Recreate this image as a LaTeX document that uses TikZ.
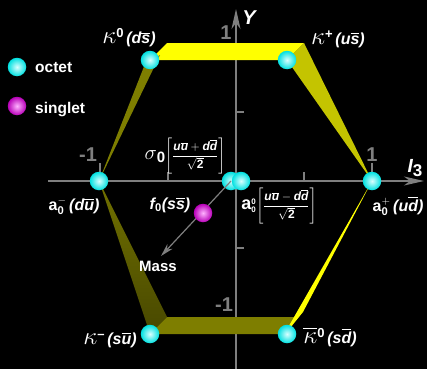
\documentclass[tikz,border=0pt]{standalone}
\usepackage{amsmath}
\usepackage{fontspec}
\setmainfont{Liberation Sans}
\usetikzlibrary{arrows.meta}
\definecolor{axisgray}{HTML}{7F7F7F}
\definecolor{yel}{HTML}{FFFF00}
\definecolor{yelside}{HTML}{C4C400}
\definecolor{oliveband}{HTML}{7E7E00}
\definecolor{olivedark}{HTML}{484800}
\newcommand{\qk}[1]{\text{#1}}
\newcommand{\aq}[1]{\overline{\text{#1}}}
\newcommand{\up}[1]{\text{\upshape #1}}
\newcommand{\kap}{{\fontsize{25}{25}\selectfont$\kappa$}}
\newcommand{\kapb}{{\fontsize{25}{25}\selectfont$\overline{\kappa}$}}
\newcommand{\supr}[1]{\raisebox{6pt}{\fontsize{13}{13}\selectfont\upshape #1}}
\tikzset{
  axisline/.style={draw=axisgray, line width=1.5pt, -{Stealth[length=20pt,width=9pt,inset=6pt]}},
  tickline/.style={draw=axisgray, line width=1.3pt},
  massline/.style={draw=axisgray, line width=1.2pt, -{Stealth[length=13pt,width=7pt,inset=4pt]}},
  ballnode/.style={circle, minimum size=18.5pt, inner sep=0pt, draw=none},
  octetball/.style={ballnode, inner color=cyan!15!white, outer color=cyan!88!black},
  singletball/.style={ballnode, inner color=magenta!30!white, outer color=magenta!72!black},
  lab/.style={text=white, inner sep=0pt, font=\fontsize{16}{18}\selectfont\bfseries\itshape},
  fraclab/.style={text=white, inner sep=0pt, font=\fontsize{12}{14}\selectfont\bfseries\itshape},
  legendtext/.style={text=white, inner sep=0pt, anchor=base west, font=\fontsize{15.5}{17}\selectfont\bfseries},
  ticklab/.style={text=axisgray, inner sep=0pt, font=\fontsize{20}{22}\selectfont\bfseries},
  axislab/.style={text=white, inner sep=0pt, font=\fontsize{20}{22}\selectfont\bfseries\itshape},
}
\begin{document}
\begin{tikzpicture}[x=1pt,y=-1pt]
\fill[black] (0,0) rectangle (427,369);
\useasboundingbox (0,0) rectangle (427,369);
% axes
\coordinate (xl) at (48,181);
\coordinate (xr) at (424,181);
\coordinate (yb) at (236,369);
\coordinate (yt) at (236,9);
\draw[axisline] (xl) -- (xr);
\draw[axisline] (yb) -- (yt);
\draw[tickline] (100,181) -- (100,163);
\draw[tickline] (168,181) -- (168,172);
\draw[tickline] (304,181) -- (304,172);
\draw[tickline] (372,181) -- (372,163);
\draw[tickline] (236,112) -- (244,112);
\draw[tickline] (236,248) -- (244,248);
% bands
\fill[yel] (150,60) -- (167,43) -- (304,43) -- (287,60) -- cycle;
\fill[yelside] (287,60) -- (304,43) -- (372,181) -- cycle;
\fill[oliveband] (145,64) -- (160,55) -- (99,181) -- cycle;
\fill[top color=oliveband!90!black, bottom color=olivedark] (99,181) -- (167,317) -- (150,334) -- cycle;
\fill[oliveband] (150,334) -- (167,317) -- (297,317) -- (287,334) -- cycle;
\fill[yel] (282,338) -- (303,312) -- (372,181) -- cycle;
% axis labels
\node[axislab] (ylab) at (249,18) {Y};
\node[axislab, font=\fontsize{19}{22}\selectfont\bfseries\itshape] (ilab) at (415,168) {I\raisebox{-4.5pt}{\fontsize{17}{17}\selectfont\upshape 3}};
\node[ticklab] (typ) at (226,33) {1};
\node[ticklab] (tym) at (224,305) {-1};
\node[ticklab] (txm) at (88,155) {-1};
\node[ticklab] (txp) at (372,155) {1};
% mass arrow
\node[octetball] (sig) at (231,181) {};
\coordinate (masstip) at (161,256);
\draw[massline] (sig.center) -- (masstip);
\node[text=white, inner sep=0pt, font=\fontsize{15}{17}\selectfont\bfseries] (mass) at (158,266) {Mass};
% balls
\node[octetball] (a00) at (241,181) {};
\node[singletball] (f0) at (203,213) {};
\node[octetball] (k0) at (150,60) {};
\node[octetball] (kp) at (287,60) {};
\node[octetball] (ap) at (372,181) {};
\node[octetball] (am) at (99,181) {};
\node[octetball] (km) at (150,334) {};
\node[octetball] (k0b) at (287,334) {};
% particle labels
\node[lab] (lk0) at (129,38) {\kap\supr{0}\,(d$\aq{s}$)};
\node[lab] (lkp) at (338,39) {\kap\supr{+}\,(u$\aq{s}$)};
\node[lab] (lam) at (74,206) {{\upshape a}$^{-}_{\up{0}}$\,(d$\aq{u}$)};
\node[lab] (lap) at (398,206) {{\upshape a}$^{+}_{\up{0}}$\,(u$\aq{d}$)};
\node[lab] (lf0) at (170,205) {f$_{\up{0}}$(s$\aq{s}$)};
\node[lab] (lkm) at (110,340) {\kap\supr{--}\,(s$\aq{u}$)};
\node[lab] (lk0b) at (330,337) {\kapb\supr{0}\,(s$\aq{d}$)};
\node[fraclab] (lsig) at (185,156) {{\fontsize{22}{22}\selectfont$\sigma$}\raisebox{-3pt}{\fontsize{15}{15}\selectfont\upshape 0}$\left[\dfrac{\qk{u}\aq{u}+\qk{d}\aq{d}}{\sqrt{\up{2}}}\right]$};
\node[fraclab] (la00) at (279,206) {{\fontsize{18}{18}\selectfont\upshape a}$^{\up{0}}_{\up{0}}\!\left[\dfrac{\qk{u}\aq{u}-\qk{d}\aq{d}}{\sqrt{\up{2}}}\right]$};
% legend
\node[octetball] (legoct) at (17,67) {};
\node[singletball] (legsin) at (17,106) {};
\node[legendtext] (toct) at (35,72) {octet};
\node[legendtext] (tsin) at (35,113) {singlet};
\end{tikzpicture}
\end{document}
